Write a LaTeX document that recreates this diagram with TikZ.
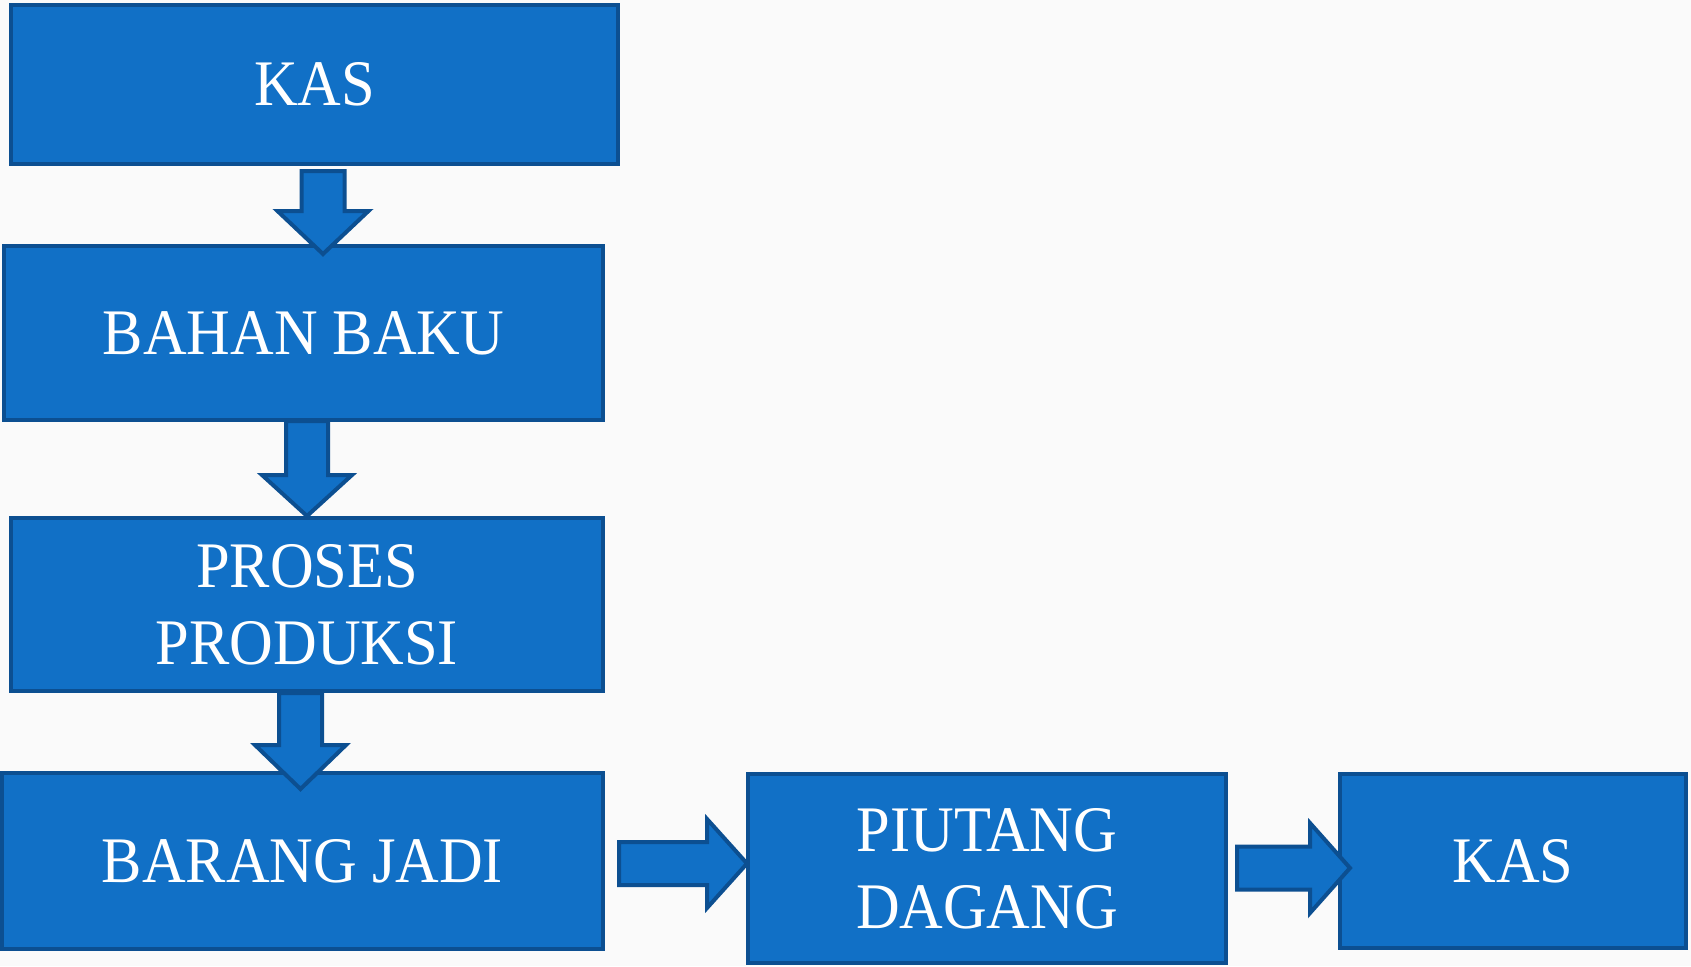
\documentclass[tikz,border=0pt]{standalone}
\usepackage{fontspec}
\setmainfont{Liberation Serif}[FakeStretch=0.93]
\usetikzlibrary{calc}
\definecolor{boxfill}{HTML}{1170C6}
\definecolor{boxline}{HTML}{0C4F91}
\definecolor{bgcol}{HTML}{FAFAFA}
\tikzset{
  box/.style={rectangle, draw=boxline, fill=boxfill, line width=4pt, text=white,
    font=\fontsize{65}{77}\selectfont, align=center, inner sep=0pt},
  barrow/.style={draw=boxline, fill=boxfill, line width=4pt, line join=miter},
}
\newcommand\downarr[5]{% start, tip, shaft half, head half, head length
  \draw[barrow] ($(#1)+(-#3,0)$) -- ($(#1)+(#3,0)$) -- ($(#2)+(#3,-#5)$) -- ($(#2)+(#4,-#5)$)
    -- (#2) -- ($(#2)+(-#4,-#5)$) -- ($(#2)+(-#3,-#5)$) -- cycle;}
\newcommand\rightarr[5]{% start, tip, shaft half, head half, head length
  \draw[barrow] ($(#1)+(0,-#3)$) -- ($(#2)+(-#5,-#3)$) -- ($(#2)+(-#5,-#4)$)
    -- (#2) -- ($(#2)+(-#5,#4)$) -- ($(#2)+(-#5,#3)$) -- ($(#1)+(0,#3)$) -- cycle;}
\begin{document}
\begin{tikzpicture}[x=1pt,y=-1pt]
\fill[bgcol] (0,0) rectangle (1691,966);
\useasboundingbox (0,0) rectangle (1691,966);
\node[box, minimum width=607pt, minimum height=159pt] (kas1) at (314.5,84.5) {KAS};
\node[box, minimum width=599pt, minimum height=174pt] (bb) at (303.5,333) {BAHAN BAKU};
\node[box, minimum width=592pt, minimum height=173pt] (pp) at (307,604.5) {PROSES\\PRODUKSI};
\node[box, minimum width=601pt, minimum height=176pt] (bj) at (302.5,861) {BARANG JADI};
\node[box, minimum width=478pt, minimum height=189pt] (pd) at (987,868.5) {PIUTANG\\DAGANG};
\node[box, minimum width=346pt, minimum height=174pt] (kas2) at (1513,861) {KAS};
% arrow end points
\coordinate (a1s) at ($(kas1.south)+(8.5,5)$);
\coordinate (a1e) at ($(bb.north)+(19.5,10)$);
\coordinate (a2s) at ($(bb.south)+(3.5,-1)$);
\coordinate (a2e) at ($(pp.north)+(0,0)$);
\coordinate (a3s) at ($(pp.south)+(-6.5,0)$);
\coordinate (a3e) at ($(bj.north)+(-2,18)$);
\coordinate (a4s) at ($(bj.east)+(14,2.5)$);
\coordinate (a4e) at ($(pd.west)+(1,-5)$);
\coordinate (a5s) at ($(pd.east)+(9,-0.5)$);
\coordinate (a5e) at ($(kas2.west)+(12,7)$);
\downarr{a1s}{a1e}{21.5}{45.5}{43}
\downarr{a2s}{a2e}{21}{45}{41}
\downarr{a3s}{a3e}{21.5}{45.5}{44}
\rightarr{a4s}{a4e}{21.5}{44.5}{40}
\rightarr{a5s}{a5e}{21.5}{45}{40}
\end{tikzpicture}
\end{document}
